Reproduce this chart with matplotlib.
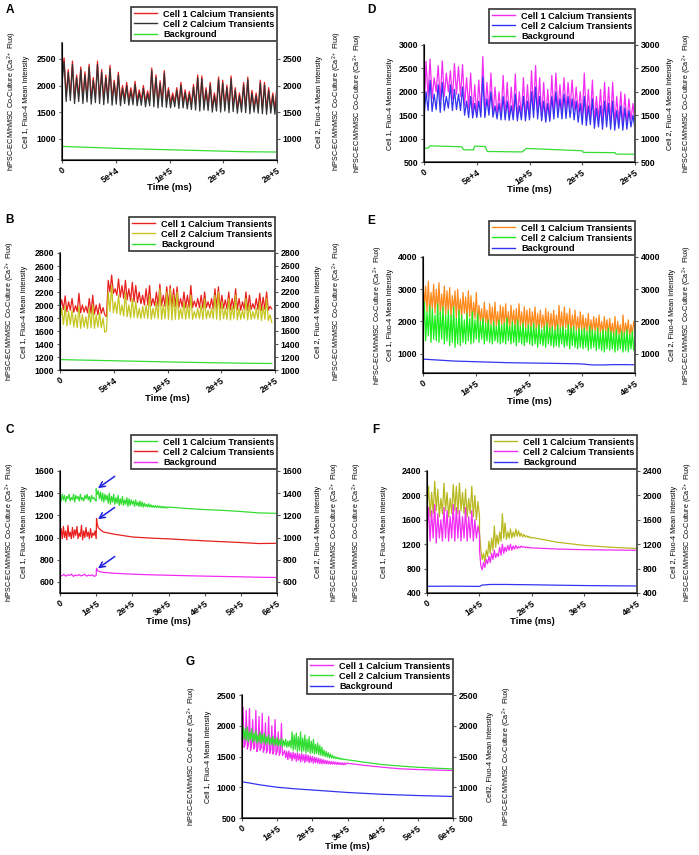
import numpy as np
import matplotlib
matplotlib.use('Agg')
import matplotlib.pyplot as plt
from matplotlib.lines import Line2D

plt.rcParams['font.family'] = ['Liberation Sans', 'DejaVu Sans']
plt.rcParams['mathtext.fontset'] = 'custom'
plt.rcParams['mathtext.rm'] = 'Liberation Sans Narrow'
plt.rcParams['mathtext.default'] = 'regular'

W, H = 699, 855

# ---------------- data ----------------
legend_labels = ['Cell 1 Calcium Transients', 'Cell 2 Calcium Transients', 'Background']
co_label = 'hiPSC-ECM/hMSC Co-Culture (Ca$^{2+}$ Flux)'
cell1_label = 'Cell 1, Fluo-4 Mean Intensity'
cell2_label = 'Cell 2, Fluo-4 Mean Intensity'
cell2_label_g = 'Cell2, Fluo-4 Mean Intensity'

ticks_2e5 = [0, 5e4, 1e5, 1.5e5, 2e5]
labels_2e5 = ['0', '5e+4', '1e+5', '2e+5', '2e+5']
ticks_4e5 = [0, 1e5, 2e5, 3e5, 4e5]
labels_4e5 = ['0', '1e+5', '2e+5', '3e+5', '4e+5']
ticks_6e5 = [0, 1e5, 2e5, 3e5, 4e5, 5e5, 6e5]
labels_6e5 = ['0', '1e+5', '2e+5', '3e+5', '4e+5', '5e+5', '6e+5']

# A
A_cell1 = [2150, 2520, 1800, 2300, 1820, 2460, 1760, 2200, 1800, 2350, 1760, 2260, 1790, 2400, 1750, 2150,
           1780, 2460, 1760, 2300, 1740, 2200, 1770, 2380, 1730, 2100, 1750, 2250, 1720, 2000, 1760, 2060,
           1730, 1960, 1740, 2080, 1720, 1920, 1730, 2000, 1700, 1900, 1720, 2330, 1700, 2200, 1680, 2090,
           1700, 2280, 1690, 1960, 1680, 1860, 1700, 1960, 1670, 2060, 1680, 1920, 1660, 1890, 1650, 2020,
           1640, 2200, 1620, 2180, 1640, 1960, 1630, 2060, 1600, 1860, 1620, 2160, 1600, 2100, 1620, 2010,
           1590, 2180, 1610, 1960, 1580, 1860, 1600, 2060, 1590, 2160, 1570, 1910, 1600, 1860, 1580, 2100,
           1570, 2060, 1560, 1960, 1580, 1860, 1560, 2000]
A_cell2 = [2050, 2450, 1700, 2250, 1720, 2400, 1660, 2150, 1700, 2300, 1660, 2200, 1690, 2350, 1650, 2100,
           1680, 2400, 1660, 2250, 1640, 2150, 1670, 2320, 1630, 2050, 1650, 2200, 1620, 1950, 1660, 2000,
           1630, 1900, 1640, 2020, 1620, 1870, 1630, 1950, 1600, 1850, 1620, 2280, 1600, 2150, 1580, 2040,
           1600, 2230, 1590, 1910, 1580, 1810, 1600, 1910, 1570, 2010, 1580, 1870, 1560, 1840, 1550, 1970,
           1540, 2150, 1520, 2130, 1540, 1910, 1530, 2010, 1500, 1810, 1520, 2110, 1500, 2050, 1520, 1960,
           1490, 2130, 1510, 1910, 1480, 1810, 1500, 2010, 1490, 2110, 1470, 1860, 1500, 1810, 1480, 2050,
           1470, 2010, 1460, 1910, 1480, 1810, 1460, 1950]
A_bg = [855, 835, 815, 800, 785, 770, 755, 750]

# D
D_cell1 = [1500, 2650, 1900, 2700, 1850, 2300, 2000, 2560, 1800, 2660, 1900, 2400, 2000, 2450, 1850, 2600,
           1950, 2540, 1900, 2580, 1700, 2300, 1650, 2400, 1500, 2150, 1480, 2250, 1550, 2750, 1500, 2200,
           1600, 2400, 1520, 2100, 1500, 2000, 1460, 2350, 1450, 2200, 1460, 2100, 1450, 2380, 1440, 2000,
           1460, 2300, 1430, 2150, 1450, 2450, 1600, 2560, 1550, 2300, 1450, 2200, 1400, 2050, 1420, 2350,
           1500, 2400, 1600, 2150, 1550, 2300, 1600, 2200, 1650, 2250, 1600, 2100, 1550, 2000, 1450, 2400,
           1400, 2050, 1420, 2250, 1350, 1900, 1400, 2050, 1350, 2200, 1400, 2100, 1350, 2200, 1300, 1900,
           1350, 2000, 1280, 1950, 1300, 1850, 1400, 1750, 1300]
D_cell2 = [1450, 2000, 1600, 2250, 1580, 1950, 1620, 2150, 1560, 2200, 1600, 1900, 1650, 2150, 1600, 2050,
           1620, 1950, 1600, 2100, 1500, 1800, 1450, 1900, 1440, 1750, 1450, 1800, 1460, 2320, 1450, 1850,
           1500, 2000, 1460, 1700, 1420, 1750, 1400, 1900, 1400, 1800, 1390, 1700, 1400, 1950, 1380, 1700,
           1400, 1900, 1380, 1800, 1400, 2000, 1450, 2100, 1420, 1900, 1380, 1800, 1350, 1750, 1370, 1900,
           1420, 2000, 1450, 1850, 1420, 1950, 1430, 1900, 1450, 1850, 1400, 1800, 1350, 1750, 1300, 1900,
           1280, 1700, 1300, 1850, 1220, 1650, 1250, 1700, 1200, 1800, 1250, 1750, 1200, 1800, 1180, 1600,
           1220, 1700, 1180, 1650, 1200, 1600, 1250, 1500, 1200]
D_bg_t = [0, 4400, 5500, 36000, 37500, 47000, 48000, 58000, 60000, 93000, 97000, 150000, 151000,
          181000, 182000, 200000]
D_bg = [790, 800, 845, 825, 760, 760, 840, 830, 725, 715, 790, 740, 705, 700, 670, 665]

# B
B_end = 1.97e5
B_cell1 = [1960, 2080, 1930, 2140, 1900, 2050, 1920, 2100, 1890, 1990, 1900, 2180, 1880, 2000, 1890, 1980,
           1880, 2100, 1870, 2150, 1860, 2000, 1850, 2020, 1870, 1960, 1850, 1820,
           2380, 2200, 2460, 2180, 2250, 2150, 2400, 2120, 2300, 2100, 2380, 2080, 2250, 2060, 2350, 2050,
           2300, 2040, 2200, 2020, 2150, 2000, 2250, 2000, 2300, 1990, 2100, 1990, 2200, 1980, 2320, 1990,
           2150, 1980, 2280, 1990, 2300, 1970, 2250, 1980, 2280, 1960, 2100, 1970, 2200, 1960, 2150, 1960,
           2300, 1960, 2060, 1970, 2100, 1960, 2150, 1950, 2200, 1960, 2050, 1950, 2100, 1940, 2250, 1950,
           2280, 1940, 2150, 1950, 2080, 1940, 2200, 1930, 2100, 1940, 2250, 1930, 2100, 1920, 2050, 1930,
           2200, 1920, 2150, 1930, 2020, 1940, 2100, 1930, 2180, 1920, 2120, 1930, 2200, 1920, 1980, 1940]
B_cell2 = [1780, 1950, 1700, 1980, 1680, 1900, 1700, 1920, 1660, 1850, 1650, 1980, 1640, 1850, 1660, 1820,
           1640, 1950, 1650, 2000, 1640, 1850, 1660, 1880, 1650, 1800, 1580, 1600,
           2200, 1900, 2300, 1880, 2050, 1870, 2150, 1850, 2000, 1830, 2200, 1820, 2000, 1800, 2100, 1810,
           2050, 1800, 1950, 1790, 1980, 1800, 2000, 1790, 2150, 1780, 1950, 1800, 2050, 1790, 2250, 1780,
           2000, 1790, 2200, 1780, 2250, 1770, 2150, 1780, 2200, 1780, 1950, 1790, 2050, 1780, 2000, 1790,
           2150, 1780, 1900, 1800, 1950, 1790, 2000, 1780, 2100, 1790, 1920, 1800, 1950, 1790, 2150, 1780,
           2200, 1770, 2050, 1790, 1950, 1780, 2100, 1770, 1980, 1790, 2150, 1770, 1950, 1780, 1920, 1790,
           2100, 1770, 2000, 1780, 1900, 1790, 1950, 1780, 2050, 1760, 1980, 1780, 2100, 1760, 1850, 1730]
B_bg = [1160, 1150, 1140, 1130, 1120, 1112, 1105, 1100]

# E
E_cell1 = [3350, 2400, 3100, 2300, 3250, 2200, 2900, 2400, 3150, 2250, 3000, 2300, 3200, 2200, 2850, 2350,
           3100, 2200, 2950, 2250, 3050, 2150, 2800, 2300, 2950, 2100, 3000, 2200, 2700, 2100, 2900, 2250,
           2750, 2050, 2950, 2150, 2800, 2000, 2600, 2100, 2900, 1900, 2500, 2000, 2400, 1800, 2600, 1950,
           2350, 1700, 2550, 1900, 2450, 1800, 2600, 1850, 2300, 1750, 2500, 1900, 2450, 1800, 2550, 1850,
           2300, 1750, 2500, 1900, 2350, 1800, 2400, 1700, 2550, 1850, 2300, 1750, 2450, 1800, 2350, 1750,
           2400, 1750, 2300, 1800, 2450, 1700, 2250, 1750, 2350, 1800, 2200, 1700, 2400, 1750, 2300, 1650,
           2250, 1750, 2350, 1700, 2200, 1700, 2500, 1750, 2300, 1650, 2450, 1800, 2250, 1700, 2400, 1650,
           2200, 1750, 2350, 1700, 2150, 1650, 2300, 1700, 2200, 1650, 2100, 1700, 2250, 1600, 2050, 1650,
           2150, 1700, 2100, 1600, 2200, 1650, 2000, 1600, 2150, 1650, 2050, 1550, 2100, 1600, 1950, 1550,
           2150, 1500, 2000, 1600, 1900, 1400, 2200, 1550, 1950, 1650, 2050, 1500, 1900, 1600, 2000, 1750]
E_cell2 = [1500, 2600, 1400, 2300, 1550, 2500, 1350, 2400, 1450, 2200, 1400, 2550, 1350, 2300, 1450, 2450,
           1300, 2200, 1400, 2350, 1250, 2200, 1350, 2450, 1200, 2100, 1300, 2350, 1250, 2200, 1350, 2050,
           1300, 2250, 1400, 2100, 1300, 2300, 1350, 2050, 1450, 2250, 1350, 2000, 1450, 2100, 1300, 1950,
           1400, 2050, 1350, 1900, 1300, 2000, 1400, 1850, 1350, 2050, 1300, 1900, 1350, 1950, 1300, 2100,
           1400, 1850, 1300, 2000, 1350, 1900, 1250, 2050, 1350, 1850, 1300, 1950, 1250, 1800, 1350, 1900,
           1300, 1850, 1250, 1950, 1300, 1800, 1200, 1900, 1300, 1750, 1250, 1850, 1200, 1950, 1300, 1800,
           1250, 1850, 1200, 1750, 1250, 1900, 1200, 1800, 1300, 1850, 1200, 1750, 1250, 1900, 1150, 1800,
           1250, 1850, 1200, 1700, 1150, 1800, 1200, 1750, 1150, 1800, 1200, 1700, 1100, 1850, 1150, 1750,
           1200, 1700, 1100, 1800, 1150, 1650, 1100, 1750, 1050, 1700, 1150, 1800, 1100, 1700, 1150, 1650,
           1050, 1750, 1100, 1600, 1150, 1700, 1050, 1650, 1100, 1750, 1050, 1600, 1150, 1700, 1100, 1550]
E_bg = [830, 810, 790, 770, 760, 750, 740, 730, 720, 715, 710, 705, 700, 695, 690, 680, 650, 650, 660, 660, 655]

# C
C_jump = 1e5
C_noisy_end = 3e5
C_cell1_pre = [1370, 1330, 1390, 1340, 1380, 1320, 1370, 1350, 1390, 1330, 1360, 1340, 1390, 1320, 1380, 1350,
               1370, 1330, 1390, 1340, 1360, 1330, 1380, 1350, 1390, 1340, 1370, 1320, 1380, 1350, 1360, 1340, 1330]
C_cell1_post = [1440, 1390, 1420, 1350, 1410, 1330, 1400, 1320, 1390, 1340, 1380, 1310, 1400, 1300, 1370, 1320,
                1390, 1300, 1360, 1310, 1380, 1290, 1350, 1300, 1370, 1290, 1340, 1300, 1360, 1280, 1350, 1290,
                1340, 1300, 1330, 1280, 1340, 1290, 1320, 1280, 1330, 1280, 1320, 1275, 1310, 1280, 1300, 1275,
                1305, 1275, 1295, 1272, 1290, 1272, 1288, 1270, 1286, 1270, 1284, 1268, 1282, 1268, 1280, 1266,
                1278, 1266, 1275]
C_tail_t = [3.5e5, 4e5, 4.5e5, 5e5, 5.5e5, 6e5]
C_cell1_tail = [1262, 1252, 1245, 1235, 1222, 1218]
C_cell2_pre = [1020, 1080, 990, 1100, 1000, 1060, 980, 1110, 1010, 1050, 990, 1090, 1000, 1070, 1020, 1100,
               990, 1040, 1010, 1110, 980, 1060, 1000, 1090, 1010, 1050, 990, 1080, 1000, 1040, 1020, 1060, 990]
C_post_t = [1.01e5, 1.03e5, 1.06e5, 1.1e5, 1.2e5, 1.5e5, 2e5, 2.5e5, 3e5, 4e5, 5e5, 5.5e5, 6e5]
C_cell2_post = [1170, 1120, 1090, 1075, 1050, 1030, 1005, 995, 988, 970, 955, 946, 948]
C_bg_pre = [660, 655, 668, 652, 664, 658, 670, 650, 662, 656, 666, 654, 660, 668, 652, 662, 656, 664, 650, 658]
C_bg_post = [722, 708, 698, 692, 686, 678, 670, 664, 660, 652, 646, 642, 640]
C_arrow_tips = [(1.05e5, 1445), (1.05e5, 1165), (1.05e5, 722)]

# F
F_drop = 1e5
F_noisy_end = 2e5
F_cell1_pre = [1800, 2150, 1650, 2050, 1700, 2230, 1750, 2100, 1650, 1950, 1700, 2200, 1750, 2050, 1650, 1950,
               1700, 2180, 1750, 2150, 1700, 2200, 1750, 2050, 1700, 2100, 1650, 1950, 1700, 2150, 1650, 2000,
               1600, 1900, 1650]
F_cell1_post = [1400, 1100, 950, 1050, 900, 1100, 1000, 1250, 1050, 1300, 1100, 1500, 1150, 1350, 1200, 1400,
                1250, 1700, 1300, 1550, 1280, 1400, 1300, 1450, 1300, 1400, 1320, 1450, 1330, 1420, 1330, 1380,
                1320, 1360, 1320, 1340, 1310, 1330, 1300, 1310]
F_tail_t = [2.5e5, 3e5, 3.5e5, 4e5]
F_cell1_tail = [1230, 1180, 1150, 1130]
F_cell2_pre = [1400, 1800, 1250, 1750, 1300, 1850, 1220, 1700, 1300, 1600, 1250, 1800, 1300, 1750, 1250, 1650,
               1300, 1850, 1250, 1800, 1300, 1750, 1250, 1650, 1300, 1800, 1250, 1650, 1300, 1750, 1250, 1600,
               1300, 1500, 1350]
F_cell2_post = [1100, 850, 780, 900, 820, 950, 880, 1000, 900, 1050, 950, 1100, 980, 1050, 1000, 1150,
                1020, 1200, 1050, 1150, 1080, 1180, 1100, 1200, 1100, 1170, 1120, 1180, 1130, 1160, 1140, 1170,
                1150, 1160, 1145, 1155, 1140, 1150, 1140, 1140]
F_cell2_tail = [1120, 1110, 1105, 1100]
F_bg_t = [0, 5e4, 1e5, 1.05e5, 1.2e5, 1.5e5, 2e5, 2.5e5, 3e5, 3.5e5, 4e5]
F_bg = [510, 512, 508, 530, 540, 540, 535, 528, 522, 518, 515]

# G
G_noisy_end = 3e5
G_cell1 = [1720, 2300, 1650, 1700, 2250, 1620, 1690, 2280, 1600, 1680, 2100, 1620, 1660, 2250, 1580, 1650,
           2150, 1600, 1640, 2200, 1570, 1620, 2050, 1560, 1610, 2150, 1550, 1600, 2000, 1540, 1590, 2100,
           1530, 1580, 1900, 1520, 1570, 2040, 1520, 1560,
           1600, 1480, 1580, 1450, 1590, 1470, 1560, 1430, 1570, 1460, 1550, 1420, 1560, 1440, 1540, 1410,
           1550, 1430, 1530, 1400, 1540, 1420, 1520, 1400, 1510, 1410, 1500, 1390, 1490, 1400, 1480, 1390,
           1470, 1385, 1460, 1380, 1450, 1385, 1440, 1380, 1430, 1378, 1425, 1375, 1420, 1375, 1415, 1372,
           1410, 1370, 1405, 1370, 1400, 1368, 1398, 1366, 1395, 1365, 1392, 1390]
G_cell2 = [1750, 2000, 1780, 1950, 1760, 1980, 1740, 1900, 1770, 1950, 1730, 1880, 1750, 1920, 1720, 1850,
           1740, 1900, 1710, 1860, 1730, 1880, 1700, 1820, 1720, 1850, 1690, 1800, 1700, 1830, 1680, 1790,
           1690, 1810, 1670, 1770, 1680, 1800, 1660, 1760, 1670, 1780, 1650, 1750, 1660, 1760, 1640,
           1900, 1600, 1850, 1620, 1880, 1580, 1820, 1600, 1900, 1570, 1800, 1590, 1850, 1560, 1780, 1580,
           1820, 1550, 1750, 1560, 1780, 1540, 1700, 1550, 1720, 1530, 1680, 1520, 1650, 1510,
           1600, 1500, 1580, 1490, 1560, 1480, 1540, 1475, 1520, 1470, 1500, 1465, 1490, 1460, 1480, 1455,
           1470, 1452, 1462, 1450, 1455, 1448, 1446]
G_tail_t = [3.5e5, 4e5, 4.5e5, 5e5, 5.5e5, 6e5]
G_cell1_tail = [1355, 1325, 1300, 1288, 1280, 1273]
G_cell2_tail = [1405, 1368, 1345, 1325, 1310, 1298]
G_bg = [1090, 1040, 1000, 975, 955, 935, 915, 900, 885, 875, 865, 858, 850]

# ---------------- drawing ----------------
TICK_FS = 6.3
LAB_FS = 5.2
LAB_FONT = ['Liberation Sans Narrow', 'Liberation Sans']
SPINE = '#555555'


def px_rect(l, t, r, b):
    return [l / W, 1 - b / H, (r - l) / W, (b - t) / H]


def even(vals, t0, t1):
    return np.linspace(t0, t1, len(vals))


def panel(fig, box, letter, letter_xy, traces, legend_colors, ylim, yticks, xticks, xlabels,
          left_off, right_off, right_text=cell2_label):
    l, t, r, b = box
    ax = fig.add_axes(px_rect(l, t, r, b))
    wpx, hpx = r - l, b - t
    for tt, vv, col in traces:
        ax.plot(tt, vv, color=col, lw=0.9)
    ax.set_xlim(xticks[0], xticks[-1])
    ax.set_ylim(*ylim)
    ax.set_yticks(yticks)
    ax.set_yticklabels([str(v) for v in yticks], fontsize=TICK_FS, fontweight='bold')
    ax.set_xticks(xticks)
    ax.set_xticklabels(xlabels, fontsize=TICK_FS, fontweight='bold', rotation=35,
                       ha='right', rotation_mode='anchor')
    ax.tick_params(length=2.5, width=0.8, color=SPINE, pad=1.5)
    ax.spines['top'].set_visible(False)
    for s in ['left', 'bottom', 'right']:
        ax.spines[s].set_color(SPINE)
        ax.spines[s].set_linewidth(1.3)

    tw = ax.twinx()
    tw.set_ylim(*ylim)
    tw.set_yticks(yticks)
    tw.set_yticklabels([str(v) for v in yticks], fontsize=TICK_FS, fontweight='bold')
    tw.tick_params(length=2.5, width=0.8, color=SPINE, pad=1.5)
    tw.spines['top'].set_visible(False)
    tw.spines['right'].set_color(SPINE)
    tw.spines['right'].set_linewidth(1.3)

    # axis titles
    kw = dict(transform=ax.transAxes, rotation=90, ha='center', va='center',
              fontsize=LAB_FS, family=LAB_FONT)
    ax.text(-left_off[0] / wpx, 0.5, co_label, **kw)
    ax.text(-left_off[1] / wpx, 0.5, cell1_label, **kw)
    ax.text(1 + right_off[0] / wpx, 0.5, right_text, **kw)
    ax.text(1 + right_off[1] / wpx, 0.5, co_label, **kw)
    ax.text(0.5, -28 / hpx, 'Time (ms)', transform=ax.transAxes, ha='center', va='center',
            fontsize=6.8, fontweight='bold')

    handles = [Line2D([], [], color=c, lw=1.0) for c in legend_colors]
    leg = ax.legend(handles, legend_labels, loc='lower right', bbox_to_anchor=(1, 1 + 1.5 / hpx),
                    borderaxespad=0, fancybox=False, framealpha=1, edgecolor='#333333',
                    prop={'size': 6.6, 'weight': 'bold'}, handlelength=2.5, handletextpad=0.65,
                    labelspacing=0.12, borderpad=0.3)
    leg.get_frame().set_linewidth(1.2)
    leg.set_zorder(5)

    fig.text(letter_xy[0] / W, 1 - letter_xy[1] / H, letter, fontsize=8.5, fontweight='bold',
             ha='center', va='center')
    return ax


fig = plt.figure(figsize=(W / 100, H / 100), dpi=100)

red = '#e8201e'
dark = '#333333'
lgreen = '#33dd33'
magenta = '#f22cf2'
blue = '#3434f0'
orange = '#ff8a1c'
bgreen = '#1cee1c'
yellow = '#c6c621'
olive = '#b8b820'

# A
panel(fig, (62, 43, 277, 160), 'A', (10, 10),
      [(even(A_cell1, 0, 2e5), A_cell1, red),
       (even(A_cell2, 0, 2e5), A_cell2, dark),
       (even(A_bg, 0, 2e5), A_bg, lgreen)],
      [red, dark, lgreen], (600, 2800), [1000, 1500, 2000, 2500], ticks_2e5, labels_2e5,
      (50, 35), (42, 60))

# D
panel(fig, (424, 45, 635, 162), 'D', (371, 10),
      [(even(D_cell1, 0, 2e5), D_cell1, magenta),
       (even(D_cell2, 0, 2e5), D_cell2, blue),
       (D_bg_t, D_bg, lgreen)],
      [magenta, blue, lgreen], (500, 3000), [500, 1000, 1500, 2000, 2500, 3000], ticks_2e5, labels_2e5,
      (66, 34), (36, 52))

# B
panel(fig, (60, 253, 275, 370), 'B', (9, 220),
      [(even(B_cell1, 0, B_end), B_cell1, red),
       (even(B_cell2, 0, B_end), B_cell2, yellow),
       (even(B_bg, 0, B_end), B_bg, lgreen)],
      [red, yellow, lgreen], (1000, 2800), list(range(1000, 2801, 200)), ticks_2e5, labels_2e5,
      (50, 35), (44, 62))

# E
panel(fig, (423, 257, 635, 373), 'E', (371, 221),
      [(even(E_cell1, 0, 4e5), E_cell1, orange),
       (even(E_cell2, 0, 4e5), E_cell2, bgreen),
       (even(E_bg, 0, 4e5), E_bg, blue)],
      [orange, bgreen, blue], (400, 4000), [1000, 2000, 3000, 4000], ticks_4e5, labels_4e5,
      (45, 33), (37, 52))

# C
c1_t = np.concatenate([even(C_cell1_pre, 0, C_jump), even(C_cell1_post, C_jump, C_noisy_end), C_tail_t])
c1_v = C_cell1_pre + C_cell1_post + C_cell1_tail
c2_t = np.concatenate([even(C_cell2_pre, 0, C_jump), C_post_t])
c2_v = C_cell2_pre + C_cell2_post
cb_t = np.concatenate([even(C_bg_pre, 0, C_jump), C_post_t])
cb_v = C_bg_pre + C_bg_post
axc = panel(fig, (60, 471, 277, 593), 'C', (10, 430),
            [(c1_t, c1_v, lgreen), (c2_t, c2_v, red), (cb_t, cb_v, magenta)],
            [lgreen, red, magenta], (500, 1600), list(range(600, 1601, 200)), ticks_6e5, labels_6e5,
            (50, 35), (41, 58))
for tip in C_arrow_tips:
    axc.annotate('', xy=tip, xytext=(12, 8.5), textcoords='offset points',
                 arrowprops=dict(arrowstyle='->', color='#2020e0', lw=1.1, shrinkA=0, shrinkB=0))

# F
f1_t = np.concatenate([even(F_cell1_pre, 0, F_drop), even(F_cell1_post, F_drop, F_noisy_end), F_tail_t])
f1_v = F_cell1_pre + F_cell1_post + F_cell1_tail
f2_t = np.concatenate([even(F_cell2_pre, 0, F_drop), even(F_cell2_post, F_drop, F_noisy_end), F_tail_t])
f2_v = F_cell2_pre + F_cell2_post + F_cell2_tail
panel(fig, (427, 471, 637, 593), 'F', (376, 430),
      [(f1_t, f1_v, olive), (f2_t, f2_v, magenta), (F_bg_t, F_bg, blue)],
      [olive, magenta, blue], (400, 2400), list(range(400, 2401, 400)), ticks_4e5, labels_4e5,
      (70, 42), (38, 51))

# G
g1_t = np.concatenate([even(G_cell1, 0, G_noisy_end), G_tail_t])
g2_t = np.concatenate([even(G_cell2, 0, G_noisy_end), G_tail_t])
panel(fig, (242, 695, 453, 818), 'G', (190, 662),
      [(g1_t, G_cell1 + G_cell1_tail, magenta),
       (g2_t, G_cell2 + G_cell2_tail, lgreen),
       (even(G_bg, 0, 6e5), G_bg, blue)],
      [magenta, lgreen, blue], (500, 2500), [500, 1000, 1500, 2000, 2500], ticks_6e5, labels_6e5,
      (50, 34), (37, 54), right_text=cell2_label_g)

fig.savefig('out.png', dpi=100)
